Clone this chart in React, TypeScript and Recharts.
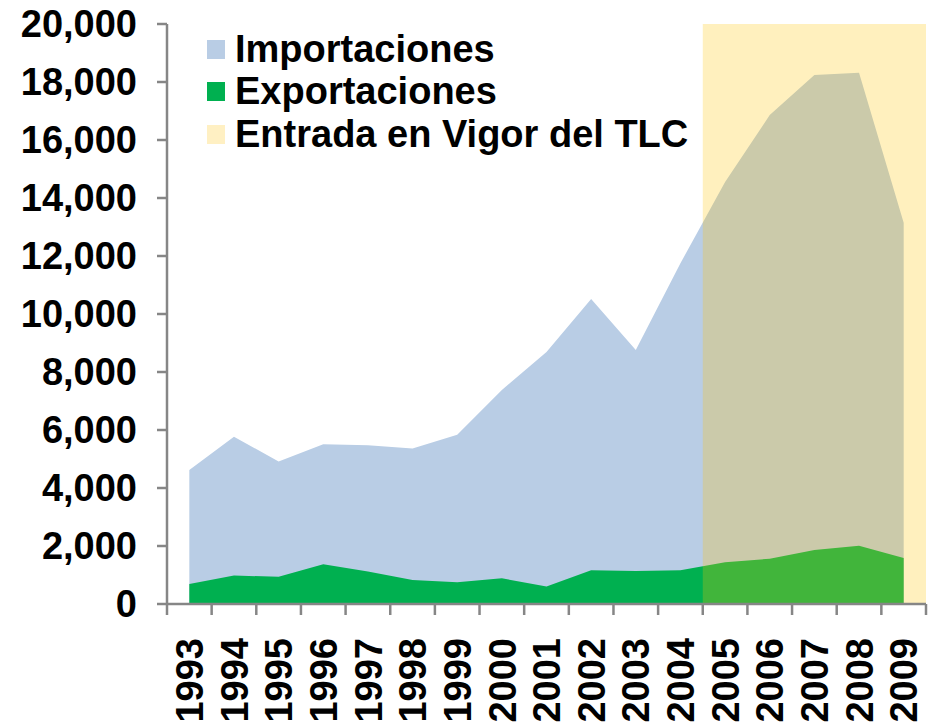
import React from 'react';
import { AreaChart, Area, XAxis, YAxis, ReferenceArea, Legend } from 'recharts';

const years = [1993, 1994, 1995, 1996, 1997, 1998, 1999, 2000, 2001, 2002, 2003, 2004, 2005, 2006, 2007, 2008, 2009];
const importaciones = [4620, 5770, 4910, 5510, 5470, 5360, 5840, 7380, 8690, 10520, 8760, 11750, 14550, 16860, 18240, 18320, 13150];
const exportaciones = [690, 980, 940, 1370, 1120, 830, 750, 885, 600, 1160, 1140, 1160, 1440, 1560, 1860, 2010, 1590];
const yTicks = [0, 2000, 4000, 6000, 8000, 10000, 12000, 14000, 16000, 18000, 20000];
const tlcStart = 2005;

const legendItems = [
  { label: 'Importaciones', color: '#B9CDE5' },
  { label: 'Exportaciones', color: '#00B050' },
  { label: 'Entrada en Vigor del TLC', color: '#FFF0C3' },
];

const data = years.map((year, i) => ({
  year,
  importaciones: importaciones[i],
  exportaciones: exportaciones[i],
}));

const FONT = '"Liberation Sans", Arial, sans-serif';
const AXIS = '#868686';
const xDomain = [years[0] - 0.5, years[years.length - 1] + 0.5];

// tick marks sit between the years, labels sit on them
const boundaryTicks = [...years.map((y) => y - 0.5), years[years.length - 1] + 0.5];

const YearTick = ({ x, y, payload }: any) => (
  <text
    x={x}
    y={y}
    transform={`rotate(-90, ${x}, ${y})`}
    textAnchor="end"
    dy="0.36em"
    fontFamily={FONT}
    fontWeight="bold"
    fontSize={38}
    fill="#000"
  >
    {payload.value}
  </text>
);

const LegendBox = () => (
  <div style={{ fontFamily: FONT, fontWeight: 'bold', fontSize: 38, color: '#000' }}>
    {legendItems.map((item) => (
      <div key={item.label} style={{ display: 'flex', alignItems: 'center', height: 42.5, whiteSpace: 'nowrap' }}>
        <span style={{ width: 18, height: 19, background: item.color, marginRight: 10, display: 'inline-block' }} />
        {item.label}
      </div>
    ))}
  </div>
);

export default function App() {
  return (
    <div style={{ position: 'absolute', left: 0, top: 0, width: 930, height: 723, background: '#fff' }}>
      <AreaChart width={930} height={723} data={data} margin={{ top: 24, right: 4, left: 0, bottom: 0 }}>
        <XAxis
          dataKey="year"
          type="number"
          domain={xDomain}
          ticks={boundaryTicks}
          interval={0}
          tick={() => <g />}
          tickLine={{ stroke: AXIS, strokeWidth: 2.5 }}
          tickSize={11}
          height={1}
          axisLine={{ stroke: AXIS, strokeWidth: 2.5 }}
          allowDataOverflow
        />
        <XAxis
          xAxisId="labels"
          dataKey="year"
          type="number"
          domain={xDomain}
          ticks={years}
          interval={0}
          tick={<YearTick />}
          tickLine={false}
          axisLine={false}
          tickSize={0}
          tickMargin={33}
          height={118}
          allowDataOverflow
        />
        <YAxis
          domain={[0, 20000]}
          ticks={yTicks}
          width={167}
          tickSize={10}
          tickMargin={20}
          stroke={AXIS}
          strokeWidth={2.5}
          tickFormatter={(v: number) => v.toLocaleString('en-US')}
          tick={{ fontFamily: FONT, fontWeight: 'bold', fontSize: 38, fill: '#000' }}
          allowDataOverflow
        />
        <Legend
          verticalAlign="middle"
          align="center"
          layout="vertical"
          content={<LegendBox />}
          wrapperStyle={{ left: 207, top: 28, width: 'auto' }}
        />
        <Area
          dataKey="importaciones"
          type="linear"
          stroke="none"
          fill="#B9CDE5"
          fillOpacity={1}
          isAnimationActive={false}
        />
        <Area
          dataKey="exportaciones"
          type="linear"
          stroke="none"
          fill="#00B050"
          fillOpacity={1}
          isAnimationActive={false}
        />
        <ReferenceArea
          x1={tlcStart - 0.5}
          x2={years[years.length - 1] + 0.5}
          y1={0}
          y2={20000}
          fill="#FFC400"
          fillOpacity={0.255}
          stroke="none"
          zIndex={150}
          ifOverflow="visible"
        />
      </AreaChart>
    </div>
  );
}
